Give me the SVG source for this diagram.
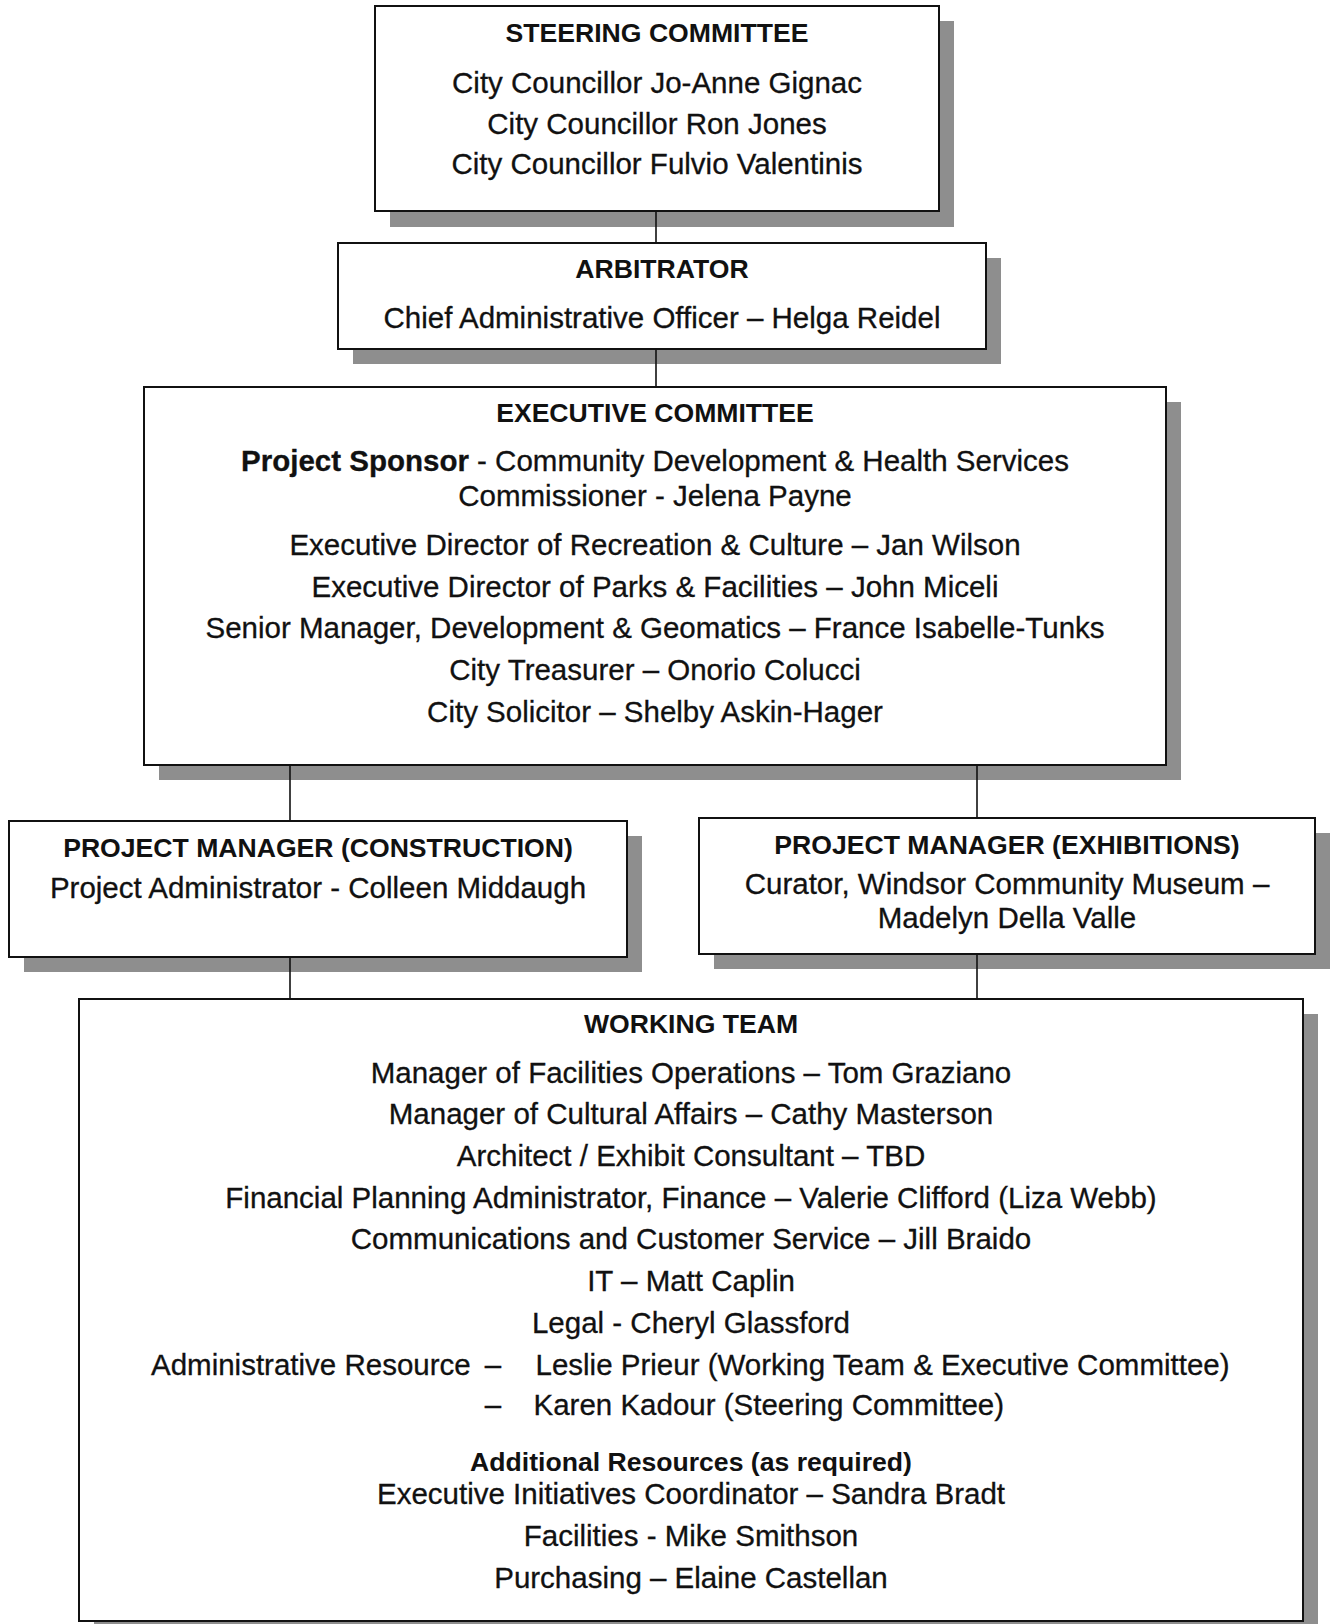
<svg xmlns="http://www.w3.org/2000/svg" width="1331" height="1624" viewBox="0 0 1331 1624">
  <style>
    .shadow { fill: #8e8e8e; }
    .box { fill: #ffffff; stroke: #111111; stroke-width: 2; }
    .head { font-family: "Liberation Sans", Arial, sans-serif; font-weight: bold; font-size: 26.6px; fill: #111111; text-anchor: middle; }
    .body { font-family: "Liberation Sans", Arial, sans-serif; font-size: 29.5px; fill: #111111; stroke: #111111; stroke-width: 0.3; text-anchor: middle; }
    .left { text-anchor: start; }
    .b { font-weight: bold; }
    .conn { stroke: #111111; stroke-width: 1.6; fill: none; }
  </style>
  <rect width="1331" height="1624" fill="#ffffff"/>

  <!-- Steering committee -->
  <g id="steering-committee">
    <rect class="shadow" x="390" y="21" width="564" height="206"/>
    <rect class="box" x="375" y="6" width="564" height="205"/>
    <text class="head" x="657" y="42">STEERING COMMITTEE</text>
    <text class="body" x="657" y="92.5">City Councillor Jo-Anne Gignac</text>
    <text class="body" x="657" y="133.5">City Councillor Ron Jones</text>
    <text class="body" x="657" y="174">City Councillor Fulvio Valentinis</text>
  </g>

  <!-- Arbitrator -->
  <g id="arbitrator">
    <rect class="shadow" x="353" y="258" width="648" height="106"/>
    <rect class="box" x="338" y="243" width="648" height="106"/>
    <text class="head" x="662" y="278">ARBITRATOR</text>
    <text class="body" x="662" y="328">Chief Administrative Officer – Helga Reidel</text>
  </g>

  <!-- Executive committee -->
  <g id="executive-committee">
    <rect class="shadow" x="159" y="402" width="1022" height="378"/>
    <rect class="box" x="144" y="387" width="1022" height="378"/>
    <text class="head" x="655" y="422">EXECUTIVE COMMITTEE</text>
    <text class="body" x="655" y="471"><tspan class="b">Project Sponsor</tspan> - Community Development &amp; Health Services</text>
    <text class="body" x="655" y="505.5">Commissioner - Jelena Payne</text>
    <text class="body" x="655" y="555">Executive Director of Recreation &amp; Culture – Jan Wilson</text>
    <text class="body" x="655" y="597">Executive Director of Parks &amp; Facilities – John Miceli</text>
    <text class="body" x="655" y="638">Senior Manager, Development &amp; Geomatics – France Isabelle-Tunks</text>
    <text class="body" x="655" y="680">City Treasurer – Onorio Colucci</text>
    <text class="body" x="655" y="722">City Solicitor – Shelby Askin-Hager</text>
  </g>

  <!-- Project manager (construction) -->
  <g id="pm-construction">
    <rect class="shadow" x="24" y="836" width="618" height="136"/>
    <rect class="box" x="9" y="821" width="618" height="136"/>
    <text class="head" x="318" y="857">PROJECT MANAGER (CONSTRUCTION)</text>
    <text class="body" x="318" y="898">Project Administrator - Colleen Middaugh</text>
  </g>

  <!-- Project manager (exhibitions) -->
  <g id="pm-exhibitions">
    <rect class="shadow" x="714" y="833" width="616" height="136"/>
    <rect class="box" x="699" y="818" width="616" height="136"/>
    <text class="head" x="1007" y="853.5">PROJECT MANAGER (EXHIBITIONS)</text>
    <text class="body" x="1007" y="894">Curator, Windsor Community Museum –</text>
    <text class="body" x="1007" y="928">Madelyn Della Valle</text>
  </g>

  <!-- Working team -->
  <g id="working-team">
    <rect class="shadow" x="94" y="1014" width="1224" height="630"/>
    <rect class="box" x="79" y="999" width="1224" height="622"/>
    <text class="head" x="691" y="1033">WORKING TEAM</text>
    <text class="body" x="691" y="1082.5">Manager of Facilities Operations – Tom Graziano</text>
    <text class="body" x="691" y="1124">Manager of Cultural Affairs – Cathy Masterson</text>
    <text class="body" x="691" y="1166">Architect / Exhibit Consultant – TBD</text>
    <text class="body" x="691" y="1207.5">Financial Planning Administrator, Finance – Valerie Clifford (Liza Webb)</text>
    <text class="body" x="691" y="1249">Communications and Customer Service – Jill Braido</text>
    <text class="body" x="691" y="1290.5">IT – Matt Caplin</text>
    <text class="body" x="691" y="1332.5">Legal - Cheryl Glassford</text>
    <text class="body left" x="151" y="1374.5">Administrative Resource</text>
    <text class="body" x="493" y="1374.5">–</text>
    <text class="body left" x="535.5" y="1374.5">Leslie Prieur (Working Team &amp; Executive Committee)</text>
    <text class="body" x="493" y="1415">–</text>
    <text class="body left" x="533.5" y="1415">Karen Kadour (Steering Committee)</text>
    <text class="head" x="691" y="1470.5">Additional Resources (as required)</text>
    <text class="body" x="691" y="1504">Executive Initiatives Coordinator – Sandra Bradt</text>
    <text class="body" x="691" y="1546">Facilities - Mike Smithson</text>
    <text class="body" x="691" y="1587.5">Purchasing – Elaine Castellan</text>
  </g>

  <!-- Reporting lines -->
  <g id="connectors">
    <line class="conn" x1="656" y1="211" x2="656" y2="243"/>
    <line class="conn" x1="656" y1="349" x2="656" y2="387"/>
    <line class="conn" x1="290" y1="765" x2="290" y2="821"/>
    <line class="conn" x1="977" y1="765" x2="977" y2="818"/>
    <line class="conn" x1="290" y1="957" x2="290" y2="999"/>
    <line class="conn" x1="977" y1="954" x2="977" y2="999"/>
  </g>
</svg>
